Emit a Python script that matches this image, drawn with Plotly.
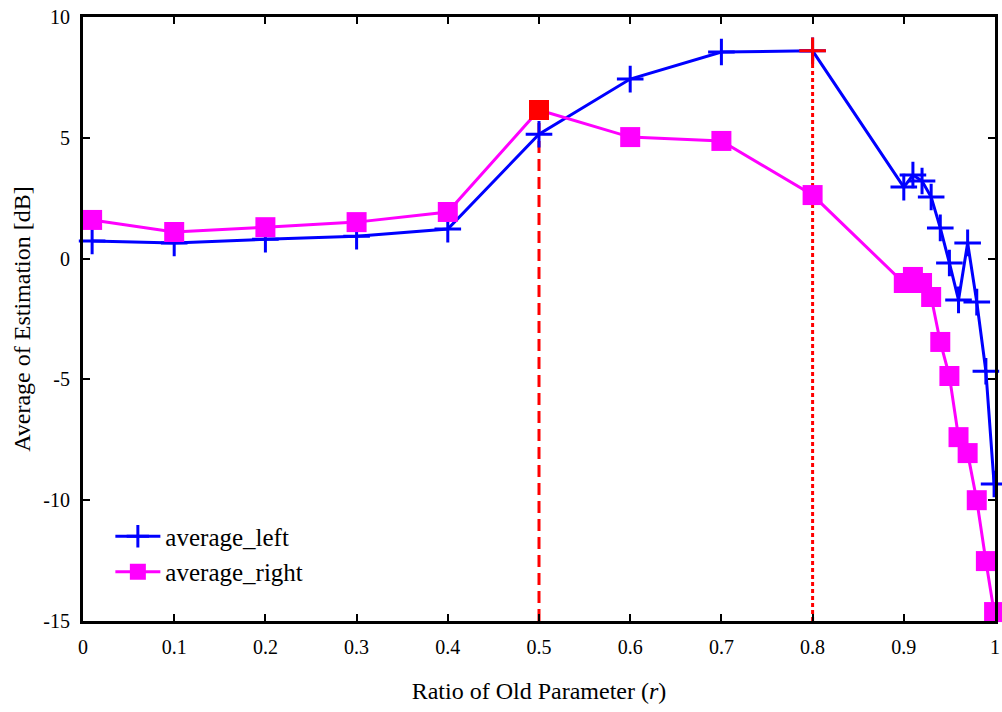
import plotly.graph_objects as go

r_vals = [0.01, 0.1, 0.2, 0.3, 0.4, 0.5, 0.6, 0.7, 0.8, 0.9, 0.91, 0.92, 0.93, 0.94, 0.95, 0.96, 0.97, 0.98, 0.99, 0.999]
average_left = [0.73, 0.65, 0.80, 0.93, 1.22, 5.15, 7.43, 8.55, 8.60, 2.96, 3.46, 3.21, 2.55, 1.27, -0.18, -1.71, 0.65, -1.80, -4.66, -9.33]
average_right = [1.60, 1.10, 1.30, 1.51, 1.93, 6.15, 5.03, 4.87, 2.63, -1.01, -0.76, -1.01, -1.59, -3.45, -4.86, -7.39, -8.05, -10.0, -12.52, -14.63]

x_ticks = [0, 0.1, 0.2, 0.3, 0.4, 0.5, 0.6, 0.7, 0.8, 0.9, 1]
x_tick_labels = ["0", "0.1", "0.2", "0.3", "0.4", "0.5", "0.6", "0.7", "0.8", "0.9", "1"]
y_ticks = [-15, -10, -5, 0, 5, 10]
y_tick_labels = ["-15", "-10", "-5", "0", "5", "10"]

# highlighted points
mark_right_x = 0.5
mark_left_x = 0.8
y_min = -15

BLUE = "#0000FF"
MAGENTA = "#FF00FF"
RED = "#FF0000"
FONT = "Liberation Serif"

fig = go.Figure()

i_r = r_vals.index(mark_right_x)
i_l = r_vals.index(mark_left_x)

# vertical marker lines
fig.add_trace(go.Scatter(x=[mark_right_x, mark_right_x], y=[y_min, average_right[i_r]], mode="lines",
                         line=dict(color=RED, width=3, dash="12px,6px"), showlegend=False, hoverinfo="skip"))
fig.add_trace(go.Scatter(x=[mark_left_x, mark_left_x], y=[y_min, average_left[i_l]], mode="lines",
                         line=dict(color=RED, width=3, dash="4px,3px"), showlegend=False, hoverinfo="skip"))

fig.add_trace(go.Scatter(x=r_vals, y=average_left, mode="lines+markers", name="average_left",
                         line=dict(color=BLUE, width=3),
                         marker=dict(symbol="cross-thin", size=19, color=BLUE, line=dict(color=BLUE, width=3)),
                         cliponaxis=False))
fig.add_trace(go.Scatter(x=r_vals, y=average_right, mode="lines+markers", name="average_right",
                         line=dict(color=MAGENTA, width=3),
                         marker=dict(symbol="square", size=20, color=MAGENTA),
                         cliponaxis=False))

# red highlighted markers
fig.add_trace(go.Scatter(x=[mark_right_x], y=[average_right[i_r]], mode="markers",
                         marker=dict(symbol="square", size=20, color=RED), showlegend=False, cliponaxis=False))
fig.add_trace(go.Scatter(x=[mark_left_x], y=[average_left[i_l]], mode="markers",
                         marker=dict(symbol="cross-thin", size=19, color=RED, line=dict(color=RED, width=3)),
                         showlegend=False, cliponaxis=False))

axis_common = dict(showgrid=False, zeroline=False, showline=True, linecolor="black", linewidth=3,
                   mirror="ticks", ticks="inside", ticklen=7, tickwidth=2, tickcolor="black",
                   automargin=False,
                   tickfont=dict(family=FONT, size=20, color="black"))

fig.update_layout(
    width=1002, height=712,
    margin=dict(l=83, r=7, t=17, b=91),
    paper_bgcolor="white", plot_bgcolor="white",
    font=dict(family=FONT, color="black"),
    xaxis=dict(range=[0, 1], tickvals=x_ticks, ticktext=x_tick_labels,
               title=dict(text="Ratio of Old Parameter (<i>r</i>)", font=dict(family=FONT, size=24), standoff=26),
               ticklabelstandoff=6, **axis_common),
    yaxis=dict(range=[-15, 10], tickvals=y_ticks, ticktext=y_tick_labels,
               title=dict(text="Average of Estimation [dB]", font=dict(family=FONT, size=24), standoff=6),
               ticklabelstandoff=6, **axis_common),
    legend=dict(x=0.03, y=0.178, xanchor="left", yanchor="top", bgcolor="rgba(0,0,0,0)",
                font=dict(family=FONT, size=25), tracegroupgap=0, itemwidth=45),
)

fig.write_html("out.html")
